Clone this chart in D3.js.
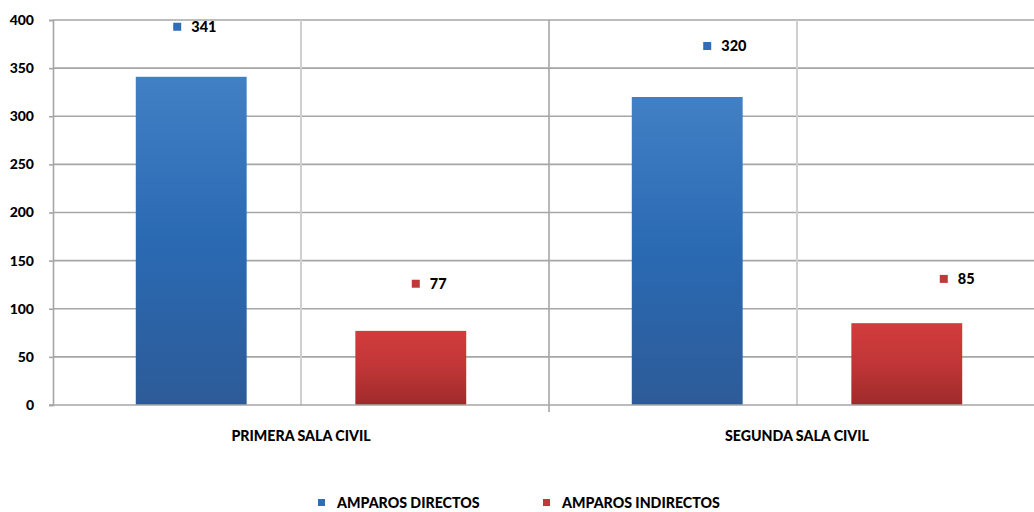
<!DOCTYPE html>
<html>
<head>
<meta charset="utf-8">
<script src="https://cdn.jsdelivr.net/npm/d3@7/dist/d3.min.js"></script>
<style>
  html, body { margin: 0; padding: 0; background: #fff; }
  svg { display: block; }
  text { font-family: Lato, "Open Sans", sans-serif; font-weight: 900; fill: #000; }
</style>
</head>
<body>
<div id="chart"></div>
<script>
// ---- data ----
const categories = ["PRIMERA SALA CIVIL", "SEGUNDA SALA CIVIL"];
const seriesNames = ["AMPAROS DIRECTOS", "AMPAROS INDIRECTOS"];
const amparosDirectos = [341, 320];
const amparosIndirectos = [77, 85];
const yTicks = [0, 50, 100, 150, 200, 250, 300, 350, 400];

// ---- layout / style ----
const W = 1034, H = 512;
const plot = { left: 53, right: 1045, top: 20, bottom: 405 };
const colors = ["#2f6db5", "#c0383a"];
// manual data-label nudges (px dx, value-units dy) per series per category
const labelNudge = [[[-18, 52], [16, 53]], [[1, 49], [33, 46]]];

const seriesValues = [amparosDirectos, amparosIndirectos];
const rows = [];
categories.forEach((c, ci) => {
  seriesNames.forEach((s, si) => rows.push({ cat: c, ci, series: s, si, value: seriesValues[si][ci] }));
});

const svg = d3.select("#chart").append("svg").attr("width", W).attr("height", H);

const defs = svg.append("defs");
const grads = [
  ["#4180c4", "#2a6ab3", "#2d5b98"],
  ["#d23c3c", "#c03637", "#9e2a2b"]
];
grads.forEach((g, i) => {
  const lg = defs.append("linearGradient").attr("id", "g" + i)
    .attr("x1", 0).attr("y1", 0).attr("x2", 0).attr("y2", 1);
  lg.append("stop").attr("offset", "0%").attr("stop-color", g[0]);
  lg.append("stop").attr("offset", "50%").attr("stop-color", g[1]);
  lg.append("stop").attr("offset", "100%").attr("stop-color", g[2]);
});

const x0 = d3.scaleBand().domain(categories).range([plot.left, plot.right]).paddingInner(0).paddingOuter(0);
const x1 = d3.scaleBand().domain(seriesNames).range([0, x0.bandwidth()]).paddingInner(0.495).paddingOuter(0.377);
const y = d3.scaleLinear().domain([0, 400]).range([plot.bottom, plot.top]);

// horizontal gridlines
svg.append("g").selectAll("line").data(yTicks.filter(t => t > 0)).join("line")
  .attr("x1", plot.left).attr("x2", W)
  .attr("y1", d => y(d)).attr("y2", d => y(d))
  .attr("stroke", "#a6a6a6").attr("stroke-width", 1.6);

// vertical gridlines at category centers (light)
svg.append("g").selectAll("line").data(categories).join("line")
  .attr("x1", d => x0(d) + x0.bandwidth() / 2).attr("x2", d => x0(d) + x0.bandwidth() / 2)
  .attr("y1", plot.top).attr("y2", plot.bottom)
  .attr("stroke", "#cfcfcf").attr("stroke-width", 2);

// vertical gridlines at category boundaries (with ticks below)
svg.append("g").selectAll("line").data(categories.slice(1)).join("line")
  .attr("x1", d => x0(d)).attr("x2", d => x0(d))
  .attr("y1", plot.top).attr("y2", plot.bottom + 7)
  .attr("stroke", "#a6a6a6").attr("stroke-width", 1.6);

// bars
svg.append("g").selectAll("rect").data(rows).join("rect")
  .attr("x", d => x0(d.cat) + x1(d.series))
  .attr("y", d => y(d.value))
  .attr("width", x1.bandwidth())
  .attr("height", d => y(0) - y(d.value))
  .attr("fill", d => `url(#g${d.si})`);

// y axis
const yAxis = d3.axisLeft(y).tickValues(yTicks).tickSize(4).tickPadding(15);
const ya = svg.append("g").attr("transform", `translate(${plot.left},0)`).call(yAxis);
ya.select(".domain").attr("stroke", "#a6a6a6").attr("stroke-width", 1.6);
ya.selectAll(".tick line").attr("stroke", "#a6a6a6").attr("stroke-width", 1.6);
ya.selectAll(".tick text").style("font-size", "14px").attr("fill", "#000")
  .style("font-family", "Lato, sans-serif").style("font-weight", "900");

// x axis baseline
svg.append("line").attr("x1", plot.left - 4).attr("x2", W)
  .attr("y1", y(0)).attr("y2", y(0)).attr("stroke", "#a6a6a6").attr("stroke-width", 1.6);

// category labels
svg.append("g").selectAll("text").data(categories).join("text")
  .attr("x", d => x0(d) + x0.bandwidth() / 2)
  .attr("y", 441)
  .attr("text-anchor", "middle")
  .style("font-size", "14.2px")
  .text(d => d);

// data labels with legend key
const lbl = svg.append("g").selectAll("g").data(rows).join("g")
  .attr("transform", d => {
    const n = labelNudge[d.si][d.ci];
    const cx = x0(d.cat) + x1(d.series) + x1.bandwidth() / 2 + n[0];
    return `translate(${cx},${y(d.value + n[1])})`;
  });
lbl.append("rect").attr("x", 0).attr("y", -4).attr("width", 8).attr("height", 8)
  .attr("fill", d => colors[d.si]);
lbl.append("text").attr("x", 18).attr("y", 5).style("font-size", "14.5px").text(d => d.value);

// legend
const legX = [318, 543];
const leg = svg.append("g").selectAll("g").data(seriesNames).join("g")
  .attr("transform", (d, i) => `translate(${legX[i]},503)`);
leg.append("rect").attr("x", 0).attr("y", -4).attr("width", 7).attr("height", 7)
  .attr("fill", (d, i) => colors[i]);
leg.append("text").attr("x", 19).attr("y", 5).style("font-size", "14.2px").text(d => d);
</script>
</body>
</html>
